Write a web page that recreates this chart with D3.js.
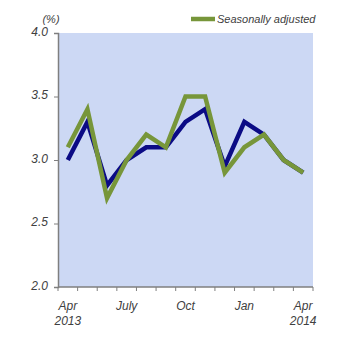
<!DOCTYPE html>
<html><head><meta charset="utf-8">
<script src="https://cdn.jsdelivr.net/npm/d3@7"></script>
<style>
html,body{margin:0;padding:0;background:#fff;}
text{font-family:"Liberation Sans",Arial,sans-serif;font-style:italic;fill:#404040;}
</style></head>
<body>
<svg id="c" width="348" height="344"></svg>
<script>
const months = ["Apr 2013","May","Jun","Jul","Aug","Sep","Oct","Nov","Dec","Jan","Feb","Mar","Apr 2014"];
const tickLabels = [["Apr","2013"],"",[""],["July"],"","",["Oct"],"","",["Jan"],"","",["Apr","2014"]];
const nonAdjusted = [3.0,3.3,2.8,3.0,3.1,3.1,3.3,3.4,2.95,3.3,3.2,3.0,2.9];
const seasonallyAdjusted = [3.1,3.4,2.7,3.0,3.2,3.1,3.5,3.5,2.9,3.1,3.2,3.0,2.9];
const yTicks = [2.0,2.5,3.0,3.5,4.0];

const svg = d3.select("#c");
const L=58, R=313, T=33, B=287;
const x = d3.scaleBand().domain(months).range([L,R]);
const y = d3.scaleLinear().domain([2,4]).range([B,T]);

svg.append("rect").attr("x",L).attr("y",T).attr("width",R-L).attr("height",B-T).attr("fill","#ccd8f4");

// y axis
const ya = svg.append("g").attr("transform",`translate(${L},0)`)
  .call(d3.axisLeft(y).tickValues(yTicks).tickFormat(d3.format(".1f")).tickSize(4).tickPadding(6));
ya.select(".domain").attr("stroke","#7f7f7f").attr("stroke-width",1.5);
ya.selectAll(".tick line").attr("stroke","#7f7f7f");
ya.selectAll(".tick text").attr("font-size",12).attr("dy","0.2em").style("font-style","italic").attr("fill","#404040");

// x axis
const xa = svg.append("g").attr("transform",`translate(0,${B})`);
xa.append("line").attr("x1",L).attr("x2",R).attr("y1",0).attr("y2",0).attr("stroke","#7f7f7f").attr("stroke-width",1.5);
const bounds = months.map(m=>x(m)).concat([R]);
xa.selectAll("line.t").data(bounds).join("line").attr("class","t")
  .attr("x1",d=>d).attr("x2",d=>d).attr("y1",0).attr("y2",4).attr("stroke","#7f7f7f");
months.forEach((m,i)=>{
  const lab = tickLabels[i];
  if(!lab || !lab[0]) return;
  const t = xa.append("text").attr("text-anchor","middle").attr("font-size",12)
    .attr("x",x(m)+x.bandwidth()/2).attr("y",23);
  lab.forEach((s,j)=>t.append("tspan").attr("x",x(m)+x.bandwidth()/2).attr("dy",j?15:0).text(s));
});

const line = d3.line().x((d,i)=>x(months[i])+x.bandwidth()/2).y(d=>y(d));
svg.append("path").datum(nonAdjusted).attr("d",line).attr("fill","none")
  .attr("stroke","#0b0b85").attr("stroke-width",4.5).attr("stroke-linejoin","miter");
svg.append("path").datum(seasonallyAdjusted).attr("d",line).attr("fill","none")
  .attr("stroke","#77963a").attr("stroke-width",4.5).attr("stroke-linejoin","miter");

// unit & legend
svg.append("text").attr("x",51).attr("y",23).attr("font-size",11).attr("text-anchor","middle").text("(%)");
svg.append("line").attr("x1",191).attr("x2",215).attr("y1",19).attr("y2",19).attr("stroke","#77963a").attr("stroke-width",4.5);
svg.append("text").attr("x",217).attr("y",23).attr("font-size",11).text("Seasonally adjusted");
</script>
</body></html>
